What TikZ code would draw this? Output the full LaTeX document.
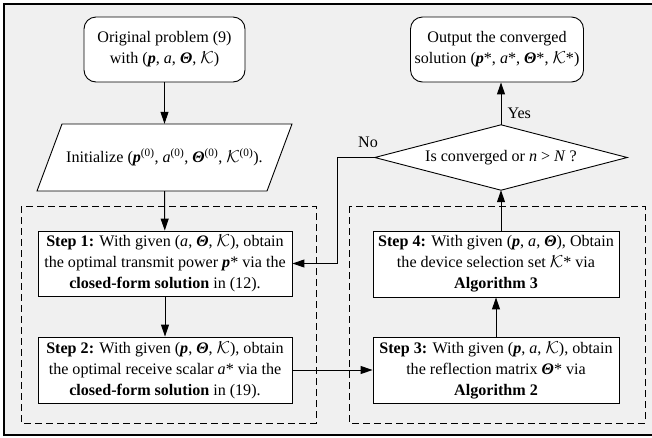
\documentclass[tikz,border=0pt]{standalone}
\usepackage{fontspec}
\setmainfont{Liberation Serif}
\usetikzlibrary{arrows.meta,shapes.geometric}
\definecolor{bggray}{HTML}{F0F0F0}
\newcommand{\bp}{\textbf{\textit{p}}}
\newcommand{\bT}{\textbf{\textit{Θ}}}
\newcommand{\cK}{$\mathcal{K}$}
\begin{document}
\begin{tikzpicture}[x=1pt,y=-1pt,
  every node/.style={font=\fontsize{16.1}{21}\selectfont, align=center, inner sep=0pt},
  rbox/.style={draw, fill=white, rounded corners=12pt, line width=0.9pt},
  sbox/.style={draw, fill=white, line width=0.9pt},
  arr/.style={line width=1pt, -{Triangle[length=12pt,width=8pt]}},
  dbox/.style={draw, dash pattern=on 7pt off 4pt, line width=0.9pt}]
\useasboundingbox (0,0) rectangle (652,437);
\fill[bggray] (4,4) rectangle (660,435);
\draw[line width=1.1pt] (660,4) -- (4,4) -- (4,435) -- (660,435);
% dashed groups
\draw[dbox] (21,206) rectangle (316,423);
\draw[dbox] (349,206) rectangle (645,423);
% nodes
\node[rbox, minimum width=161pt, minimum height=65pt] (start) at (164.5,49.5)
  {Original problem (9)\\ with (\bp, \textit{a}, \bT, \cK)};
\node[minimum width=255pt, minimum height=67pt] (init) at (164.5,157.5) {};
\draw[line width=0.9pt, fill=white] (62,124) -- (292,124) -- (267,191) -- (37,191) -- cycle;
\node at (init.center) {Initialize (\bp\textsuperscript{(0)}, \textit{a}\textsuperscript{(0)}, \bT\textsuperscript{(0)}, \cK\textsuperscript{(0)}).};
\node[sbox, minimum width=254pt, minimum height=65pt] (s1) at (165,263.5)
  {\textbf{Step 1:} With given (\textit{a}, \bT, \cK), obtain\\ the optimal transmit power \bp* via the\\ \textbf{closed-form solution} in (12).};
\node[sbox, minimum width=254pt, minimum height=66pt] (s2) at (165,370)
  {\textbf{Step 2:} With given (\bp, \bT, \cK), obtain\\ the optimal receive scalar \textit{a}* via the\\ \textbf{closed-form solution} in (19).};
\node[sbox, minimum width=246pt, minimum height=66pt] (s3) at (496,370)
  {\textbf{Step 3:} With given (\bp, \textit{a}, \cK), obtain\\ the reflection matrix \bT* via\\ \textbf{Algorithm 2}};
\node[sbox, minimum width=246pt, minimum height=66pt] (s4) at (496,264)
  {\textbf{Step 4:} With given (\bp, \textit{a}, \bT), Obtain\\ the device selection set \cK* via\\ \textbf{Algorithm 3}};
\node[minimum width=252pt, minimum height=65pt] (dec) at (501,157.5) {};
\draw[line width=0.9pt, fill=white] (dec.west) -- (dec.north) -- (dec.east) -- (dec.south) -- cycle;
\node at (dec.center) {Is converged or \textit{n} > \textit{N} ?};
\node[rbox, minimum width=173pt, minimum height=65pt] (out) at (497,49.5)
  {Output the converged\\ solution (\bp*, \textit{a}*, \bT*, \cK*)};
\coordinate (nocorner1) at (337,157.5);
\coordinate (nocorner2) at (337,263.5);
% connectors
\draw[arr] (start) -- (init.north);
\draw[arr] (init.south) -- (s1);
\draw[arr] (s1) -- (s2);
\draw[arr] (s2) -- (s3);
\draw[arr] (s3) -- (s4);
\draw[arr] (s4.north -| dec.south) -- (dec.south);
\draw[arr] (dec.north) -- (dec.north |- out.south) node[pos=0.27, right=6pt] {Yes};
\draw[arr] (dec.west) -- (nocorner1) -- (nocorner2) -- (s1.east);
\node at (368,142) {No};
\end{tikzpicture}
\end{document}
